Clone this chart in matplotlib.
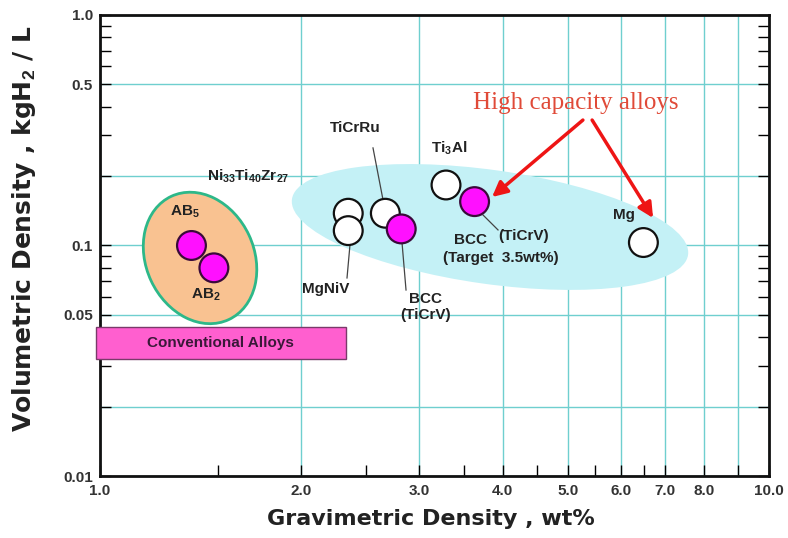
import numpy as np
import matplotlib
matplotlib.use("Agg")
import matplotlib.pyplot as plt
from matplotlib.patches import Ellipse, Rectangle
from matplotlib.transforms import ScaledTranslation

plt.rcParams['font.family'] = ['Liberation Sans', 'DejaVu Sans']
plt.rcParams['mathtext.fontset'] = 'custom'
plt.rcParams['mathtext.rm'] = 'Liberation Sans'
plt.rcParams['mathtext.bf'] = 'Liberation Sans:bold'
plt.rcParams['mathtext.default'] = 'bf'

# alloy points (wt%, kgH2/L)
alloy_x = [1.37, 1.48, 2.35, 2.35, 2.67, 2.82, 3.29, 3.63, 6.49]
alloy_y = [0.100, 0.080, 0.138, 0.116, 0.138, 0.118, 0.183, 0.155, 0.103]
alloy_bcc = [True, True, False, False, False, True, False, True, False]

# labels
label_txt = ["Ni$_{33}$Ti$_{40}$Zr$_{27}$", "AB$_5$", "AB$_2$", "TiCrRu", "MgNiV",
             "BCC\n(TiCrV)", "Ti$_3$Al", "BCC", "(TiCrV)", "(Target  3.5wt%)", "Mg"]
label_x = [1.664, 1.34, 1.44, 2.405, 2.177, 3.07, 3.324, 3.574, 4.29, 3.976, 6.07]
label_y = [0.200, 0.140, 0.061, 0.3235, 0.0648, 0.0541, 0.265, 0.1056, 0.110, 0.0883, 0.1356]

# leader lines
lead_x = [(2.559, 2.649), (2.364, 2.34), (2.828, 2.867), (3.737, 3.935)]
lead_y = [(0.265, 0.1575), (0.1005, 0.0723), (0.1026, 0.0641), (0.1356, 0.1168)]

# arrows from "High capacity alloys"
arrow_from = [(5.27, 0.350), (5.44, 0.350)]
arrow_to = [(3.855, 0.1623), (6.71, 0.1316)]

# regions
conv_x = (0.986, 2.33)
conv_y = (0.0322, 0.0443)
ab_center = (1.411, 0.0883)
hc_center = (3.828, 0.1203)

xticks = [1, 2, 3, 4, 5, 6, 7, 8, 9, 10]
xticklabels = ['1.0', '2.0', '3.0', '4.0', '5.0', '6.0', '7.0', '8.0', '', '10.0']
xminor = [1.5, 2.5, 3.5, 4.5, 5.5, 6.5]
yticks = [0.01, 0.02, 0.05, 0.1, 0.2, 0.5, 1.0]
yticklabels = ['0.01', '', '0.05', '0.1', '', '0.5', '1.0']
yminor = [0.03, 0.04, 0.06, 0.07, 0.08, 0.09, 0.3, 0.4, 0.6, 0.7, 0.8, 0.9]

fig = plt.figure(figsize=(7.88, 5.38), dpi=100)
ax = fig.add_axes([0.1269, 0.1152, 0.849, 0.857])
ax.set_xscale('log')
ax.set_yscale('log')
ax.set_xlim(1, 10)
ax.set_ylim(0.01, 1.0)

ax.set_xticks(xticks)
ax.set_xticklabels(xticklabels)
ax.set_xticks(xminor, minor=True)
ax.set_xticklabels([], minor=True)
ax.set_yticks(yticks)
ax.set_yticklabels(yticklabels)
ax.set_yticks(yminor, minor=True)
ax.set_yticklabels([], minor=True)

ax.grid(which='major', color='#6fcfcf', lw=1.0)
ax.set_axisbelow(True)
ax.tick_params(which='both', direction='in', length=8, width=1, top=False, right=True,
               labelsize=11, labelcolor='#333333')
ax.tick_params(axis='x', pad=6)
ax.tick_params(axis='y', pad=5)
for lab in ax.get_xticklabels() + ax.get_yticklabels():
    lab.set_fontweight('bold')
for s in ax.spines.values():
    s.set_linewidth(2)
    s.set_color('#111111')


def ellipse(center, w, h, angle, **kw):
    tr = fig.dpi_scale_trans + ScaledTranslation(center[0], center[1], ax.transData)
    e = Ellipse((0, 0), w, h, angle=angle, transform=tr, **kw)
    ax.add_patch(e)


ellipse(hc_center, 4.0, 1.14, -8, facecolor='#c4f1f6', edgecolor='none', zorder=1)
ellipse(ab_center, 1.36, 1.08, -65, facecolor='#f9c291', edgecolor='#2db889', lw=2, zorder=1)

ax.add_patch(Rectangle((conv_x[0], conv_y[0]), conv_x[1] - conv_x[0], conv_y[1] - conv_y[0],
                       facecolor='#ff5fcf', edgecolor='#7a3a6a', lw=1, zorder=3, clip_on=False))
ax.text(np.sqrt(conv_x[0] * conv_x[1]), np.sqrt(conv_y[0] * conv_y[1]), 'Conventional Alloys',
        ha='center', va='center', fontsize=11, fontweight='bold', color='#3a1838', zorder=4)

for lx, ly in zip(lead_x, lead_y):
    ax.plot(lx, ly, color='#444444', lw=0.9, zorder=2)

faces = ['#ff10ff' if b else 'white' for b in alloy_bcc]
edges = ['#3a0a3a' if b else '#111111' for b in alloy_bcc]
ax.scatter(alloy_x, alloy_y, s=430, c=faces, edgecolors=edges, linewidths=1.6, zorder=3)

for t, x, y in zip(label_txt, label_x, label_y):
    ax.text(x, y, t, ha='center', va='center', fontsize=11, fontweight='bold',
            color='#222222', zorder=4, linespacing=1.1)

ax.text(5.145, 0.415, 'High capacity alloys', ha='center', va='center',
        fontsize=18, family='Liberation Serif', color='#e04a38', zorder=4)
for a, b in zip(arrow_from, arrow_to):
    ax.annotate('', xy=b, xytext=a,
                arrowprops=dict(arrowstyle='-|>,head_length=0.9,head_width=0.45',
                                color='#ee1515', lw=2.5, shrinkA=0, shrinkB=0), zorder=4)

ax.set_xlabel('Gravimetric Density , wt%', fontsize=16, fontweight='bold',
              family='DejaVu Sans', color='#222222')
ax.set_ylabel('Volumetric Density , kgH$_2$ / L', fontsize=18, fontweight='bold',
              family='DejaVu Sans', color='#222222')
ax.xaxis.set_label_coords(0.495, -0.072)
ax.yaxis.set_label_coords(-0.092, 0.536)

fig.savefig('out.png', dpi=100)
